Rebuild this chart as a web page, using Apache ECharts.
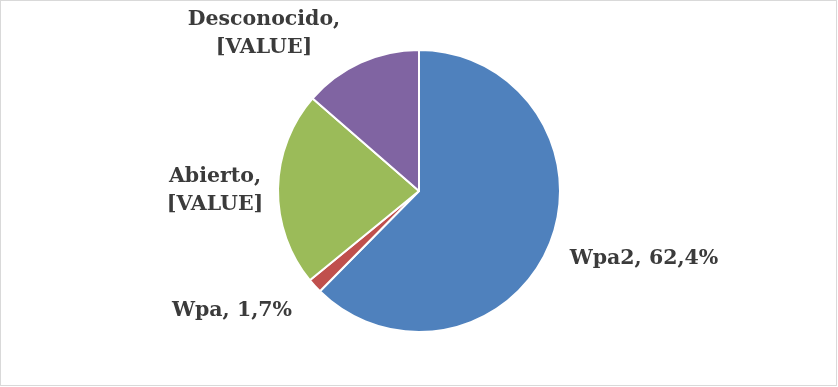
<!DOCTYPE html>
<html><head><meta charset="utf-8">
<script src="https://cdn.jsdelivr.net/npm/echarts@6/dist/echarts.min.js"></script>
<style>
html,body{margin:0;padding:0;background:#fff;}
#frame{position:absolute;left:0;top:0;width:835px;height:384px;border:1px solid #d9d9d9;box-sizing:content-box;}
#chart{position:absolute;left:0;top:0;width:838px;height:387px;}
</style></head>
<body>
<div id="frame"></div>
<div id="chart"></div>
<script>
const categories = ['Wpa2', 'Wpa', 'Abierto', 'Desconocido'];
const values = [62.4, 1.7, 22.3, 13.6];
const valueLabels = ['62,4%', '1,7%', '[VALUE]', '[VALUE]'];
const multiline = [false, false, true, true];
const colors = ['#4F81BD', '#C0504D', '#9BBB59', '#8064A2'];

const labelAnchors = [[644, 259], [232, 311], [215, 191], [264, 34]];

const chart = echarts.init(document.getElementById('chart'));
chart.setOption({
  animation: false,
  series: [{
    type: 'pie',
    center: [419, 191],
    radius: [0, 141],
    startAngle: 90,
    clockwise: true,
    data: categories.map((c, i) => ({ name: c, value: values[i], itemStyle: { color: colors[i] } })),
    itemStyle: { borderColor: '#fff', borderWidth: 2 },
    label: {
      show: true,
      position: 'outside',
      formatter: p => p.name + ',' + (multiline[p.dataIndex] ? '\n' : ' ') + valueLabels[p.dataIndex],
      fontFamily: 'DejaVu Serif',
      fontWeight: 'bold',
      fontSize: 20.5,
      lineHeight: 28,
      color: '#3b3b3b',
      align: 'center'
    },
    labelLine: { show: false },
    labelLayout: p => ({
      x: labelAnchors[p.dataIndex][0],
      y: labelAnchors[p.dataIndex][1],
      align: 'center',
      verticalAlign: 'middle'
    })
  }]
});
</script>
</body></html>
